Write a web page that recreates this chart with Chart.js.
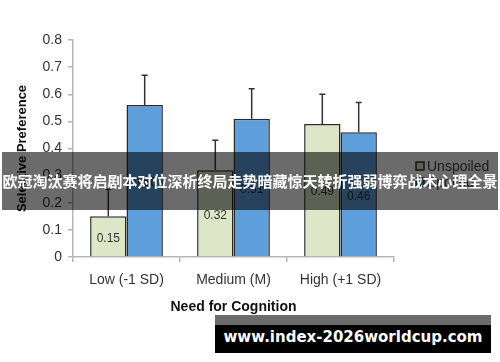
<!DOCTYPE html>
<html>
<head>
<meta charset="utf-8">
<script src="https://cdn.jsdelivr.net/npm/chart.js@4/dist/chart.umd.min.js"></script>
<style>
  body { margin: 0; background: #fff; }
  #wrap { position: relative; width: 500px; height: 362px; overflow: hidden; }
  #banner {
    position: absolute; left: 2px; top: 152px; width: 496px; height: 58px;
    background: rgba(0, 0, 0, 0.58); color: #fff;
    font: bold 15px "Noto Sans CJK SC", sans-serif;
    line-height: 58px; text-align: center; white-space: nowrap;
  }
  #mark-top { position: absolute; left: 215px; top: 315px; width: 276px; height: 10px; background: #6b6b6b; }
  #mark {
    position: absolute; left: 215px; top: 325px; width: 276px; height: 28px;
    background: #000; color: #fff; text-align: center; white-space: nowrap;
    font: bold 15px "DejaVu Sans", sans-serif; line-height: 24px;
  }
</style>
</head>
<body>
<div id="wrap">
  <canvas id="chart" width="500" height="362"></canvas>
  <div id="banner">欧冠淘汰赛将启剧本对位深析终局走势暗藏惊天转折强弱博弈战术心理全景</div>
  <div id="mark-top"></div>
  <div id="mark">www.index-2026worldcup.com</div>
</div>
<script>
const categories = ['Low (-1 SD)', 'Medium (M)', 'High (+1 SD)'];
const seriesNames = ['Unspoiled', 'Spoiled'];
const unspoiled = [0.15, 0.32, 0.49];
const spoiled = [0.56, 0.51, 0.46];
const unspoiledErr = [0.10, 0.11, 0.11];
const spoiledErr = [0.11, 0.11, 0.11];
const yTicks = [0, 0.1, 0.2, 0.3, 0.4, 0.5, 0.6, 0.7, 0.8];

const font = 'Liberation Sans';

// error bars (upper only) and the value printed in the middle of each bar
const barExtras = {
    id: 'barExtras',
    afterDatasetsDraw(chart) {
        const c = chart.ctx;
        const y = chart.scales.y;
        chart.data.datasets.forEach((ds, di) => {
            const meta = chart.getDatasetMeta(di);
            meta.data.forEach((bar, i) => {
                const v = ds.data[i];
                const top = y.getPixelForValue(v + ds.err[i]);
                c.save();
                c.strokeStyle = '#333';
                c.lineWidth = 1.5;
                c.beginPath();
                c.moveTo(bar.x, bar.y);
                c.lineTo(bar.x, top);
                c.moveTo(bar.x - 3, top);
                c.lineTo(bar.x + 3, top);
                c.stroke();
                c.fillStyle = '#333';
                c.font = '12px "' + font + '"';
                c.textAlign = 'center';
                c.textBaseline = 'middle';
                c.fillText(v.toFixed(2), bar.x, (bar.y + bar.base) / 2 + 2);
                c.restore();
            });
        });
    },
    afterDraw(chart) {
        const c = chart.ctx;
        c.save();
        chart.data.datasets.forEach((ds, di) => {
            const cy = 166 + di * 16;
            c.fillStyle = ds.backgroundColor;
            c.strokeStyle = '#333';
            c.lineWidth = 1.5;
            c.fillRect(416, cy - 4, 8, 8);
            c.strokeRect(416, cy - 4, 8, 8);
            c.fillStyle = '#444';
            c.font = '14px "' + font + '"';
            c.textBaseline = 'middle';
            c.fillText(ds.label, 427, cy + 1);
        });
        c.restore();
    }
};

new Chart(document.getElementById('chart'), {
    type: 'bar',
    data: {
        labels: categories,
        datasets: [{
            label: seriesNames[0],
            data: unspoiled,
            err: unspoiledErr,
            backgroundColor: '#dde6c6',
            borderColor: '#2b2b2b',
            borderWidth: 1.5
        }, {
            label: seriesNames[1],
            data: spoiled,
            err: spoiledErr,
            backgroundColor: '#5e9edb',
            borderColor: '#2b2b2b',
            borderWidth: 1.5
        }]
    },
    options: {
        responsive: false,
        devicePixelRatio: 1,
        animation: false,
        categoryPercentage: 0.68,
        barPercentage: 1,
        layout: { padding: { top: 40, right: 106, bottom: 0, left: 0 } },
        scales: {
            x: {
                afterFit: s => { s.height = 105; },
                border: { color: '#b5b5b5', width: 1.5 },
                grid: { drawOnChartArea: false, tickLength: 5, color: '#b5b5b5', lineWidth: 1.5 },
                ticks: { color: '#333', padding: 10, font: { family: font, size: 14 } },
                title: {
                    display: true, text: 'Need for Cognition', color: '#111',
                    font: { family: font, size: 14, weight: 'bold' },
                    padding: { top: 0, bottom: 46 }
                }
            },
            y: {
                min: 0,
                max: 0.8,
                afterFit: s => { s.width = 73; },
                afterBuildTicks: s => { s.ticks = yTicks.map(v => ({ value: v })); },
                border: { color: '#b5b5b5', width: 1.5 },
                grid: { drawOnChartArea: false, tickLength: 5, color: '#b5b5b5', lineWidth: 1.5 },
                ticks: {
                    color: '#333', padding: 6, font: { family: font, size: 14 },
                    callback: v => String(v)
                },
                title: {
                    display: true, text: 'Selective Preference', color: '#111',
                    font: { family: font, size: 13, weight: 'bold' },
                    padding: { top: 15, bottom: 0 }
                }
            }
        },
        plugins: {
            legend: { display: false },
            tooltip: { enabled: false }
        }
    },
    plugins: [barExtras]
});
</script>
</body>
</html>
